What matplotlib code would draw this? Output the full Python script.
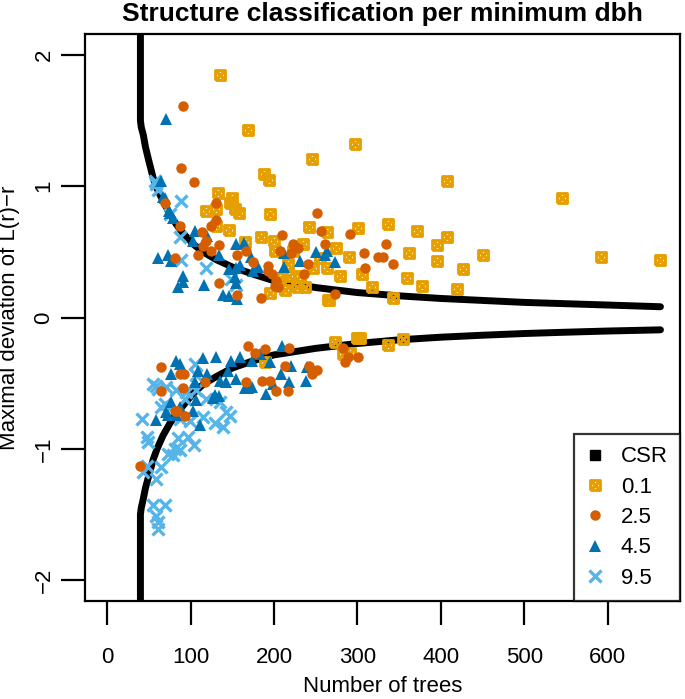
import matplotlib
matplotlib.use('Agg')
import matplotlib.pyplot as plt
from matplotlib.path import Path
from matplotlib.lines import Line2D

plt.rcParams['font.family'] = ['Liberation Sans', 'DejaVu Sans']

# CSR envelope
csr_n = [40, 40, 41, 43.5, 46, 49.4, 55.4, 60, 67, 75, 83, 90, 103, 115, 131, 150,
         175, 200, 250, 300, 350, 400, 450, 500, 550, 600, 663]
csr_up = [2.6, 1.50, 1.45, 1.39, 1.30, 1.21, 1.06, 0.98, 0.89, 0.79, 0.71, 0.65, 0.56,
          0.50, 0.44, 0.385, 0.33, 0.28, 0.228, 0.19, 0.165, 0.145, 0.13, 0.115, 0.105,
          0.095, 0.082]
csr_lo = [-2.6, -1.50, -1.45, -1.38, -1.30, -1.22, -1.08, -1.0, -0.9, -0.81, -0.73, -0.68,
          -0.58, -0.51, -0.45, -0.385, -0.33, -0.285, -0.235, -0.198, -0.17, -0.15,
          -0.135, -0.122, -0.112, -0.103, -0.094]

# dbh 0.1
n01 = [135, 169, 188, 194, 245, 297, 407, 545, 592, 663, 450, 371, 407, 362, 395, 395,
       427, 359, 377, 419, 318, 343, 306, 242, 263, 301, 336, 235, 274, 290, 279, 266,
       237, 247, 133, 150, 147, 153, 158, 119, 131, 195, 131, 146, 184, 200, 165, 201,
       223, 255, 263, 217, 207, 218, 231, 227, 195, 213, 265, 354, 337, 303, 273, 299,
       283, 291, 189]
y01 = [1.85, 1.43, 1.09, 1.05, 1.21, 1.32, 1.04, 0.91, 0.46, 0.44, 0.48, 0.66, 0.61, 0.49,
       0.55, 0.43, 0.37, 0.30, 0.24, 0.22, 0.235, 0.147, 0.33, 0.69, 0.65, 0.68, 0.71,
       0.56, 0.53, 0.46, 0.32, 0.134, 0.233, 0.38, 0.95, 0.91, 0.87, 0.83, 0.80, 0.81,
       0.83, 0.79, 0.70, 0.67, 0.61, 0.58, 0.575, 0.51, 0.51, 0.45, 0.38, 0.405, 0.30,
       0.32, 0.32, 0.233, 0.19, 0.21, 0.13, -0.16, -0.21, -0.155, -0.19, -0.157, -0.28,
       -0.27, -0.34]

# dbh 2.5
n25 = [91, 88.5, 104, 130, 130, 125, 252, 256, 261, 291, 334, 330, 308, 343, 309, 241,
       236, 273, 210, 223, 229, 220, 207, 88, 114, 118, 115, 125, 109, 134, 167, 156,
       81, 175, 193, 193, 198, 134, 203, 201, 205, 156, 185, 325, 69,
       169, 189, 218, 177, 242, 247, 251, 245, 213, 186, 195, 167, 202, 217, 87, 92,
       91, 117, 81, 93, 65, 65, 40, 283, 289, 285, 301, 84]
y25 = [1.61, 1.14, 1.03, 0.87, 0.74, 0.70, 0.80, 0.66, 0.56, 0.64, 0.56, 0.46, 0.49,
       0.405, 0.38, 0.405, 0.33, 0.18, 0.63, 0.56, 0.53, 0.49, 0.51, 0.70, 0.65, 0.58,
       0.545, 0.51, 0.48, 0.55, 0.51, 0.48, 0.455, 0.42, 0.39, 0.355, 0.33, 0.265, 0.28,
       0.24, 0.23, 0.17, 0.145, 0.46, 0.87,
       -0.215, -0.24, -0.23, -0.27, -0.37, -0.405, -0.40, -0.43, -0.37, -0.48, -0.48,
       -0.49, -0.56, -0.56, -0.43, -0.43, -0.54, -0.49, -0.71, -0.75, -0.56, -0.38,
       -1.13, -0.23, -0.30, -0.34, -0.30, -0.71]

# dbh 4.5
n45 = [71, 65, 69, 74.5, 79, 105, 103, 120, 134, 154, 73, 61, 67, 75, 164, 77, 172, 91,
       91, 85, 116, 146, 155, 159, 153, 155, 139, 146, 156, 181, 175, 212, 212, 231, 250,
       263, 261, 273,
       210, 195, 220, 209, 218, 239, 238, 190, 199, 183, 174, 159, 149, 145, 155, 165,
       169, 174, 131, 115, 109, 120, 135, 143, 105, 83, 87, 77, 127, 134, 107, 77, 83,
       73, 59, 111, 88, 103, 71, 129]
y45 = [1.51, 1.04, 0.91, 0.81, 0.76, 0.66, 0.58, 0.62, 0.48, 0.56, 0.48, 0.455, 0.92,
       0.80, 0.57, 0.43, 0.46, 0.32, 0.27, 0.235, 0.25, 0.37, 0.38, 0.40, 0.31, 0.26,
       0.17, 0.165, 0.14, 0.385, 0.355, 0.49, 0.385, 0.43, 0.50, 0.505, 0.475, 0.425,
       -0.22, -0.34, -0.37, -0.43, -0.49, -0.38, -0.48, -0.58, -0.505, -0.28, -0.335,
       -0.30, -0.33, -0.41, -0.47, -0.54, -0.54, -0.53, -0.30, -0.31, -0.405, -0.43,
       -0.48, -0.49, -0.49, -0.33, -0.355, -0.43, -0.61, -0.60, -0.63, -0.645, -0.74,
       -0.74, -0.78, -0.82, -0.68, -0.71, -0.72, -0.59]

# dbh 9.5
n95 = [57, 61, 89, 75, 87, 88.5, 118, 149, 155, 59,
       55, 61, 71, 83, 95, 107, 119, 135, 143, 65, 41.5, 87, 99, 115, 129, 47.5, 49.5,
       85, 104, 73, 79, 47.5, 43.5, 59, 65, 55, 69, 59, 61, 61, 87, 97, 139, 147, 81,
       105, 107, 59, 69, 93]
y95 = [1.04, 0.975, 0.89, 0.785, 0.61, 0.44, 0.38, 0.29, 0.25, 1.02,
       -0.505, -0.545, -0.53, -0.555, -0.57, -0.555, -0.62, -0.645, -0.72, -0.68, -0.77,
       -0.77, -0.785, -0.76, -0.80, -0.91, -0.95, -0.92, -0.975, -1.04, -1.05, -1.13,
       -1.18, -1.23, -1.14, -1.43, -1.43, -1.51, -1.56, -1.61, -1.01, -0.91, -0.835,
       -0.75, -1.0, -0.355, -0.44, -0.52, -0.66, -0.62]

legend_labels = ['CSR', '0.1', '2.5', '4.5', '9.5']

C01, C25, C45, C95 = '#E69F00', '#D55E00', '#0072B2', '#56B4E9'

# pch 7 style: square with an X inside
sq_x = Path([(-1, -1), (1, -1), (1, 1), (-1, 1), (-1, -1), (-1, -1), (1, 1), (-1, 1), (1, -1)],
            [Path.MOVETO, Path.LINETO, Path.LINETO, Path.LINETO, Path.LINETO,
             Path.MOVETO, Path.LINETO, Path.MOVETO, Path.LINETO])

fig = plt.figure(figsize=(6.85, 6.99), dpi=100)
ax = fig.add_axes([85 / 685, 1 - 601 / 699, 595 / 685, 567 / 699])

ax.plot(csr_n, csr_up, color='black', lw=5, solid_capstyle='round', zorder=2)
ax.plot(csr_n, csr_lo, color='black', lw=5, solid_capstyle='round', zorder=2)

sty01 = dict(ls='none', marker=sq_x, ms=7, mfc='none', mec=C01, mew=2.2)
sty25 = dict(ls='none', marker='o', ms=7.5, mfc=C25, mec=C25, mew=0)
sty45 = dict(ls='none', marker='^', ms=8.5, mfc=C45, mec=C45, mew=0)
sty95 = dict(ls='none', marker='x', ms=8, mec=C95, mew=2.4)

ax.plot(n01, y01, zorder=3, **sty01)
ax.plot(n95, y95, zorder=4, **sty95)
ax.plot(n45, y45, zorder=5, **sty45)
ax.plot(n25, y25, zorder=6, **sty25)

ax.set_xlim(-26.4, 686.4)
ax.set_ylim(-2.16, 2.16)
ax.set_xticks([0, 100, 200, 300, 400, 500, 600])
ax.set_yticks([-2, -1, 0, 1, 2])
ax.set_yticklabels(['\u22122', '\u22121', '0', '1', '2'], rotation=90, va='center')
ax.tick_params(length=17, width=1.6, labelsize=16, color='black')
ax.tick_params(axis='x', pad=16)
ax.tick_params(axis='y', pad=5)
for s in ax.spines.values():
    s.set_linewidth(1.6)

ax.set_xlabel('Number of trees', fontsize=16, labelpad=6)
ax.set_ylabel('Maximal deviation of L(r)\u2212r', fontsize=16, labelpad=10)
ax.set_title('Structure classification per minimum dbh', fontsize=19,
             fontweight='bold', pad=9)

handles = [
    Line2D([], [], ls='none', marker='s', ms=7, color='black'),
    Line2D([], [], **sty01),
    Line2D([], [], **sty25),
    Line2D([], [], **sty45),
    Line2D([], [], **sty95),
]
leg = ax.legend(handles, legend_labels, loc='lower right', fontsize=16,
                frameon=True, fancybox=False, borderaxespad=0, handlelength=0.8,
                handletextpad=0.75, labelspacing=0.42, borderpad=0.55)
leg.get_frame().set_edgecolor('black')
leg.get_frame().set_linewidth(1.6)

plt.savefig('out.png', dpi=100)
